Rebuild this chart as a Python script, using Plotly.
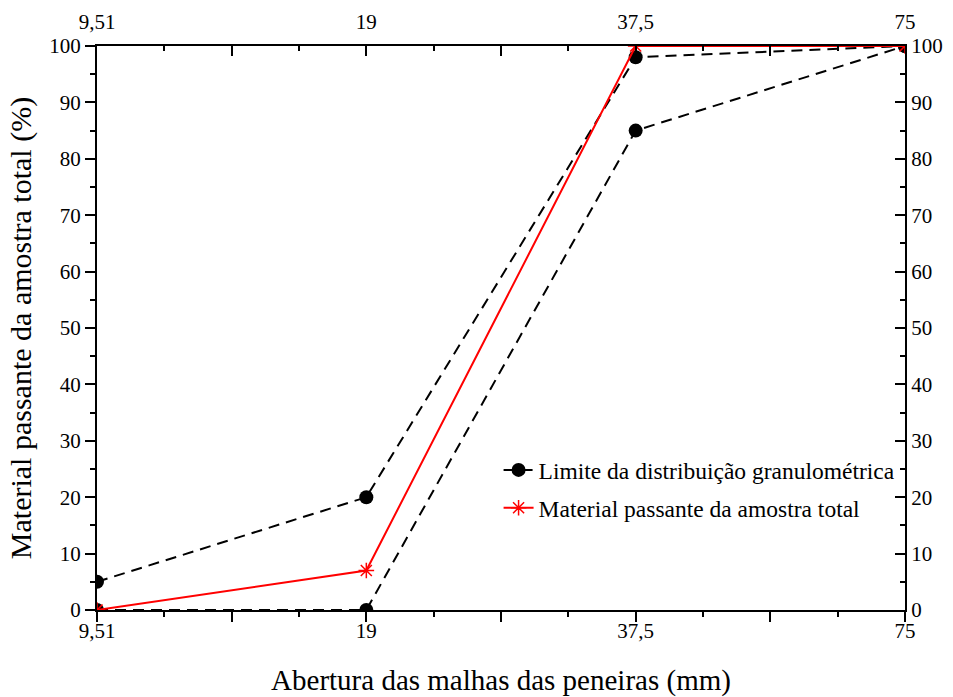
import plotly.graph_objects as go

x_labels = ["9,51", "19", "37,5", "75"]
upper_limit = [5, 20, 98, 100]
lower_limit = [0, 0, 85, 100]
material = [0, 7, 100, 100]

x_idx = list(range(len(x_labels)))
FONT = "Liberation Serif, Times New Roman, serif"

fig = go.Figure()
fig.add_trace(go.Scatter(
    x=x_idx, y=upper_limit, mode="lines+markers",
    line=dict(color="black", width=2, dash="11px,7px"),
    marker=dict(symbol="circle", size=14, color="black"),
    name="Limite da distribuição granulométrica", legend="legend"))
fig.add_trace(go.Scatter(
    x=x_idx, y=lower_limit, mode="lines+markers",
    line=dict(color="black", width=2, dash="11px,7px"),
    marker=dict(symbol="circle", size=14, color="black"),
    name="Limite da distribuição granulométrica", showlegend=False))
fig.add_trace(go.Scatter(
    x=x_idx, y=material, mode="lines+markers",
    line=dict(color="red", width=2),
    marker=dict(symbol="asterisk-open", size=13, color="red", line=dict(color="red", width=1.5)),
    name="Material passante da amostra total", legend="legend2"))
# dummy trace for top/right axes
fig.add_trace(go.Scatter(x=[0], y=[0], xaxis="x2", yaxis="y2", mode="markers",
                         marker=dict(opacity=0), showlegend=False, hoverinfo="skip"))

major = [i * 0.5 for i in range(7)]
major_text = [x_labels[int(v)] if v == int(v) else "" for v in major]
minor = [0.25 + i * 0.5 for i in range(6)]
yt = list(range(0, 101, 10))
ym = list(range(5, 100, 10))

TICKFONT = dict(family=FONT, size=21, color="black")
common_x = dict(range=[0, 3], tickvals=major, ticktext=major_text, showgrid=False, zeroline=False,
                showline=True, linecolor="black", linewidth=2, tickwidth=2, tickcolor="black",
                ticklen=10, automargin=False, tickfont=TICKFONT)
common_y = dict(range=[0, 100], tickvals=yt, showgrid=False, zeroline=False,
                showline=True, linecolor="black", linewidth=2, tickwidth=2, tickcolor="black",
                ticklen=10, automargin=False, tickfont=TICKFONT)
LEG = dict(xanchor="left", yanchor="middle", bgcolor="rgba(0,0,0,0)",
           font=dict(family=FONT, size=23.5, color="black"))

fig.update_layout(
    width=953, height=697,
    paper_bgcolor="white", plot_bgcolor="white",
    margin=dict(l=97, r=48, t=46, b=87),
    font=dict(family=FONT, color="black"),
    xaxis=dict(**common_x, ticks="outside", ticklabelstandoff=-9,
               minor=dict(tickvals=minor, ticks="outside", ticklen=5, tickwidth=2, tickcolor="black"),
               title=dict(text="Abertura das malhas das peneiras (mm)", font=dict(family=FONT, size=29, color="black"), standoff=28)),
    xaxis2=dict(**common_x, overlaying="x", side="top", ticks="inside", ticklabelstandoff=7,
                minor=dict(tickvals=minor, ticks="inside", ticklen=5, tickwidth=2, tickcolor="black")),
    yaxis=dict(**common_y, ticks="outside",
               minor=dict(tickvals=ym, ticks="outside", ticklen=5, tickwidth=2, tickcolor="black"),
               title=dict(text="Material passante da amostra total (%)", font=dict(family=FONT, size=30, color="black"), standoff=9)),
    yaxis2=dict(**common_y, overlaying="y", side="right", ticks="inside",
                minor=dict(tickvals=ym, ticks="inside", ticklen=5, tickwidth=2, tickcolor="black")),
    legend=dict(x=0.497, y=0.248, **LEG),
    legend2=dict(x=0.497, y=0.181, **LEG),
    showlegend=True,
)

fig.write_html("out.html", config={"displayModeBar": False},
               post_script="document.body.style.margin='0px';")
